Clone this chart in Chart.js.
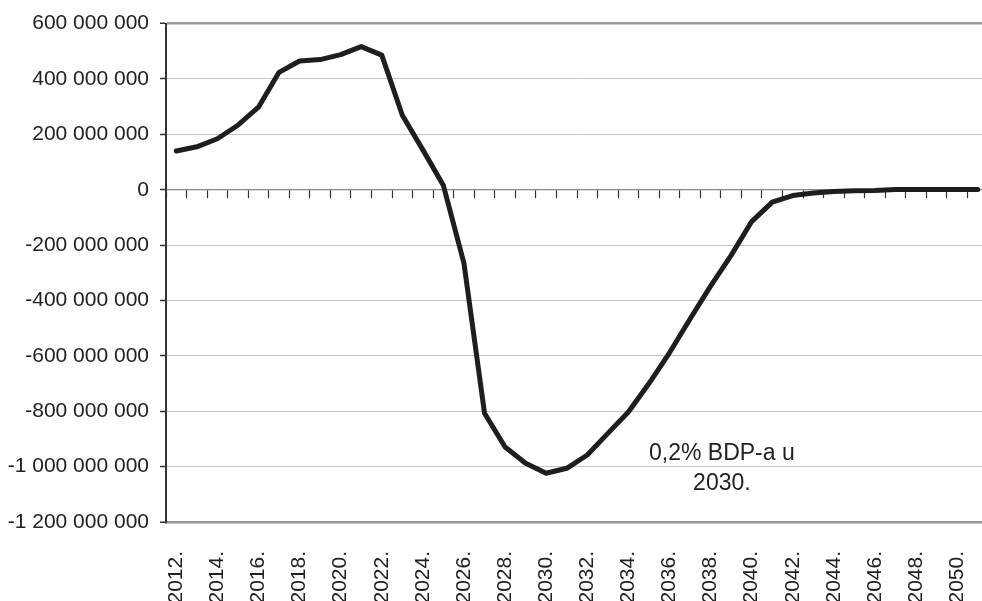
<!DOCTYPE html>
<html>
<head>
<meta charset="utf-8">
<script src="https://cdn.jsdelivr.net/npm/chart.js@4/dist/chart.umd.min.js"></script>
<style>
    html, body { margin: 0; padding: 0; background: #fff; overflow: hidden; }
    #wrap { position: absolute; left: 0; top: 0; width: 988px; height: 601px; }
</style>
</head>
<body>
<div id="wrap"><canvas id="chart"></canvas></div>
<script>
// years on the x axis
const years = ['2012.', '2013.', '2014.', '2015.', '2016.', '2017.', '2018.', '2019.', '2020.', '2021.',
    '2022.', '2023.', '2024.', '2025.', '2026.', '2027.', '2028.', '2029.', '2030.', '2031.',
    '2032.', '2033.', '2034.', '2035.', '2036.', '2037.', '2038.', '2039.', '2040.', '2041.',
    '2042.', '2043.', '2044.', '2045.', '2046.', '2047.', '2048.', '2049.', '2050.', '2051.'];

// yearly values
const values = [140e6, 155e6, 184e6, 233e6, 298e6, 424e6, 465e6, 470e6, 488e6, 517e6,
    486e6, 269e6, 144e6, 15e6, -266e6, -807e6, -929e6, -988e6, -1024e6, -1006e6,
    -958e6, -880e6, -803e6, -700e6, -589e6, -467e6, -348e6, -237e6, -115e6, -45e6,
    -21e6, -12e6, -6e6, -4e6, -3e6, 1e6, 1e6, 1e6, 1e6, 1e6];

const yTicks = { min: -1200000000, max: 600000000, step: 200000000 };

const noteLines = ['0,2% BDP-a u', '2030.'];

function formatNumber(v) {
    const s = String(Math.abs(v)).replace(/\B(?=(\d{3})+(?!\d))/g, ' ');
    return v < 0 ? '-' + s : s;
}

const font = 'Liberation Sans, Arial, sans-serif';

const notePlugin = {
    id: 'note',
    afterDatasetsDraw(chart) {
        const { ctx, scales } = chart;
        const x = scales.x.getPixelForValue(26.55);
        ctx.save();
        ctx.font = '23px ' + font;
        ctx.fillStyle = '#222';
        ctx.textAlign = 'center';
        ctx.textBaseline = 'middle';
        ctx.fillText(noteLines[0], x, scales.y.getPixelForValue(-952e6));
        ctx.fillText(noteLines[1], x, scales.y.getPixelForValue(-1060e6));
        ctx.restore();
    }
};

new Chart(document.getElementById('chart'), {
    type: 'line',
    data: {
        labels: years,
        datasets: [{
            data: values,
            borderColor: '#1e1e1e',
            borderWidth: 5,
            pointRadius: 0,
            tension: 0,
            borderJoinStyle: 'round',
            borderCapStyle: 'round'
        }]
    },
    options: {
        responsive: true,
        maintainAspectRatio: false,
        animation: false,
        layout: { padding: { top: 21, left: 0, right: 0, bottom: 0 } },
        plugins: {
            legend: { display: false },
            tooltip: { enabled: false }
        },
        scales: {
            x: {
                type: 'category',
                position: 'bottom',
                offset: true,
                grid: { display: false },
                border: { display: true, color: '#999', width: 2 },
                ticks: {
                    autoSkip: false,
                    minRotation: 90,
                    maxRotation: 90,
                    padding: 21,
                    color: '#222',
                    font: { family: font, size: 21 },
                    callback: (v, i) => i % 2 === 0 ? years[i] : ''
                },
                afterFit(scale) {
                    scale.height = 79;
                    scale.paddingLeft = 0;
                    scale.paddingRight = 0;
                }
            },
            x2: {
                type: 'category',
                axis: 'x',
                position: { y: 0 },
                offset: true,
                grid: {
                    offset: true,
                    drawOnChartArea: false,
                    drawTicks: true,
                    tickLength: 8,
                    tickColor: '#333',
                    tickWidth: 1.2
                },
                border: { display: true, color: '#888', width: 1.2 },
                ticks: { display: false, autoSkip: false }
            },
            y: {
                min: yTicks.min,
                max: yTicks.max,
                border: { display: true, color: '#333', width: 2 },
                grid: {
                    color: ctx => {
                        const v = ctx.tick ? ctx.tick.value : 0;
                        if (v === yTicks.max || v === yTicks.min) return '#999';
                        return '#c4c4c4';
                    },
                    lineWidth: ctx => {
                        const v = ctx.tick ? ctx.tick.value : 0;
                        return (v === yTicks.max || v === yTicks.min) ? 2.5 : 1;
                    },
                    tickLength: 6,
                    tickColor: '#333',
                    tickWidth: 1.5
                },
                ticks: {
                    stepSize: yTicks.step,
                    padding: 11,
                    color: '#222',
                    font: { family: font, size: 21 },
                    callback: v => formatNumber(v)
                },
                afterFit(scale) {
                    scale.width = 166;
                }
            }
        }
    },
    plugins: [notePlugin]
});
</script>
</body>
</html>
